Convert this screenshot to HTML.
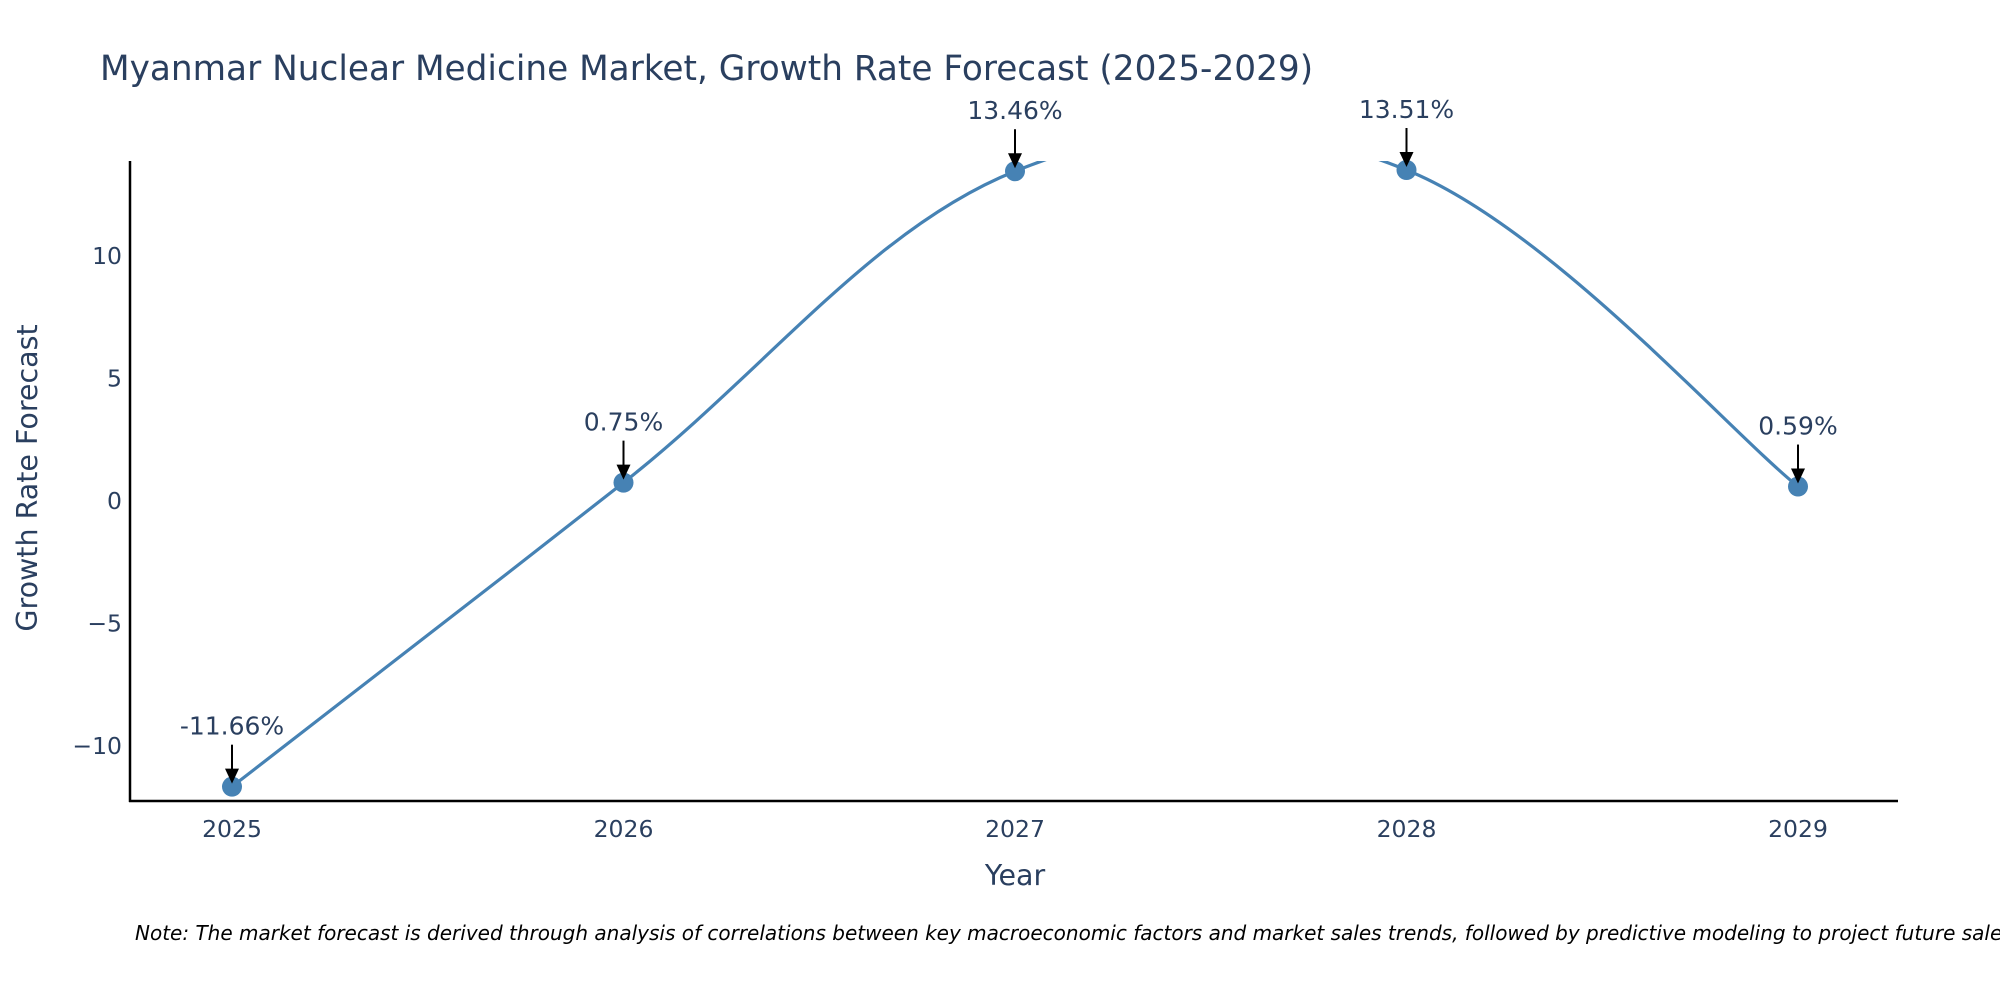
<!DOCTYPE html>
<html><head><meta charset="utf-8"><style>
html,body{margin:0;padding:0;background:#fff;}
svg{display:block;font-family:"DejaVu Sans","Liberation Sans",sans-serif;}
</style></head><body>
<svg id="chart" width="2000" height="1000" viewBox="0 0 2000 1000">
<text x="100" y="80" font-size="34.3" fill="#2a3f5f">Myanmar Nuclear Medicine Market, Growth Rate Forecast (2025-2029)</text>
<defs>
<clipPath id="plotclip"><rect x="130" y="161" width="1768" height="640"/></clipPath>
</defs>
<g id="ticks"></g>
<g id="series" clip-path="url(#plotclip)"></g>
<g id="annots"></g>
<line x1="130" y1="161" x2="130" y2="802" stroke="#000" stroke-width="2.5"/>
<line x1="129" y1="801" x2="1898" y2="801" stroke="#000" stroke-width="2.5"/>
<text x="1015" y="885" font-size="28.5" fill="#2a3f5f" text-anchor="middle">Year</text>
<text transform="translate(37,478) rotate(-90)" font-size="28.5" fill="#2a3f5f" text-anchor="middle">Growth Rate Forecast</text>
<text x="135" y="940" font-size="20" font-style="italic" fill="#000">Note: The market forecast is derived through analysis of correlations between key macroeconomic factors and market sales trends, followed by predictive modeling to project future sales.</text>
</svg>
<script>
const years = [2025, 2026, 2027, 2028, 2029];
const growth = [-11.66, 0.75, 13.46, 13.51, 0.59];
const labels = ["-11.66%", "0.75%", "13.46%", "13.51%", "0.59%"];
const yTicks = [-10, -5, 0, 5, 10];
const yTickLabels = ["\u221210", "\u22125", "0", "5", "10"];

const NS = "http://www.w3.org/2000/svg";
const xs = v => 232 + (v - 2025) * 391.5;
const ys = v => 501 - v * 24.5;
function mk(tag, attrs, parent){const e=document.createElementNS(NS,tag);for(const k in attrs)e.setAttribute(k,attrs[k]);parent.appendChild(e);return e;}
const tg = document.getElementById('ticks');
yTicks.forEach((t,i)=>{
  const e = mk('text',{x:122,y:ys(t)+8,'font-size':23.5,fill:'#2a3f5f','text-anchor':'end'},tg);
  e.textContent = yTickLabels[i];
  
  
});
years.forEach(y=>{
  const e = mk('text',{x:xs(y),y:837,'font-size':23.5,fill:'#2a3f5f','text-anchor':'middle'},tg);
  e.textContent = y;
  
  
});
const pts = years.map((y,i)=>[xs(y), ys(growth[i])]);
let d = `M${pts[0][0]},${pts[0][1]}`;
const tension = 1/5.5;
for(let i=0;i<pts.length-1;i++){
  const p0=pts[Math.max(0,i-1)],p1=pts[i],p2=pts[i+1],p3=pts[Math.min(pts.length-1,i+2)];
  const c1=[p1[0]+(p2[0]-p0[0])*tension,p1[1]+(p2[1]-p0[1])*tension];
  const c2=[p2[0]-(p3[0]-p1[0])*tension,p2[1]-(p3[1]-p1[1])*tension];
  d+=` C${c1[0]},${c1[1]} ${c2[0]},${c2[1]} ${p2[0]},${p2[1]}`;
}
const sg = document.getElementById('series');
const path = mk('path',{d:d,fill:'none',stroke:'#4682b4','stroke-width':3.2},sg);


const ag = document.getElementById('annots');
pts.forEach((p,i)=>{
  const c = mk('circle',{cx:p[0],cy:p[1],r:10,fill:'#4682b4'},ag);
  
  
  const l = mk('line',{x1:p[0],y1:p[1]-42,x2:p[0],y2:p[1]-14,stroke:'#000','stroke-width':2},ag);
  
  
  const h = mk('polygon',{points:`${p[0]-7},${p[1]-18} ${p[0]+7},${p[1]-18} ${p[0]},${p[1]-3}`,fill:'#000'},ag);
  
  
  const t = mk('text',{x:p[0],y:p[1]-52,'font-size':25,fill:'#2a3f5f','text-anchor':'middle'},ag);
  t.textContent = labels[i];
  
  
});
</script>
</body></html>
